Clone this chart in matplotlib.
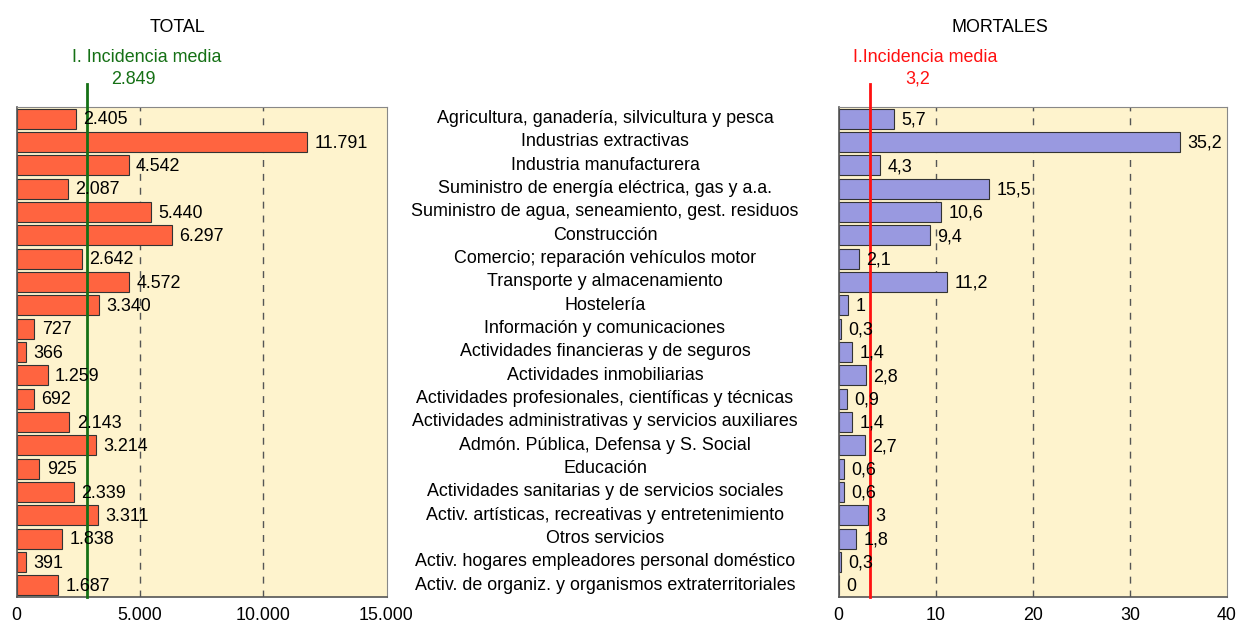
import matplotlib
matplotlib.use("Agg")
import matplotlib.pyplot as plt
import numpy as np

plt.rcParams['font.family'] = ['Liberation Sans', 'DejaVu Sans']

categories = [
    "Agricultura, ganadería, silvicultura y pesca",
    "Industrias extractivas",
    "Industria manufacturera",
    "Suministro de energía eléctrica, gas y a.a.",
    "Suministro de agua, seneamiento, gest. residuos",
    "Construcción",
    "Comercio; reparación vehículos motor",
    "Transporte y almacenamiento",
    "Hostelería",
    "Información y comunicaciones",
    "Actividades financieras y de seguros",
    "Actividades inmobiliarias",
    "Actividades profesionales, científicas y técnicas",
    "Actividades administrativas y servicios auxiliares",
    "Admón. Pública, Defensa y S. Social",
    "Educación",
    "Actividades sanitarias y de servicios sociales",
    "Activ. artísticas, recreativas y entretenimiento",
    "Otros servicios",
    "Activ. hogares empleadores personal doméstico",
    "Activ. de organiz. y organismos extraterritoriales",
]
total = [2405, 11791, 4542, 2087, 5440, 6297, 2642, 4572, 3340, 727, 366, 1259,
         692, 2143, 3214, 925, 2339, 3311, 1838, 391, 1687]
mortales = [5.7, 35.2, 4.3, 15.5, 10.6, 9.4, 2.1, 11.2, 1, 0.3, 1.4, 2.8,
            0.9, 1.4, 2.7, 0.6, 0.6, 3, 1.8, 0.3, 0]
total_mean = 2849
mortales_mean = 3.2
total_ticks = [0, 5000, 10000, 15000]
mortales_ticks = [0, 10, 20, 30, 40]

W, H = 1236, 622
fig = plt.figure(figsize=(W / 100, H / 100), dpi=100)
FS = 12.9

bg = '#FEF3CD'
top_px, bot_px = 107, 597
axL = fig.add_axes([16.5 / W, 1 - bot_px / H, (386.5 - 16.5) / W, (bot_px - top_px) / H])
axR = fig.add_axes([838.5 / W, 1 - bot_px / H, (1227 - 838.5) / W, (bot_px - top_px) / H])

n = len(categories)
y = np.arange(n)

def fmt_total(v):
    return f"{v:,}".replace(",", ".")

def fmt_mort(v):
    s = f"{v:g}"
    return s.replace(".", ",")

def style(ax, xmax, ticks, tickfmt):
    ax.set_facecolor(bg)
    ax.set_xlim(0, xmax)
    ax.set_ylim(n - 0.5, -0.5)
    ax.set_yticks([])
    ax.set_xticks(ticks)
    ax.set_xticklabels([tickfmt(t) for t in ticks], fontsize=FS)
    ax.tick_params(axis='x', length=0, pad=7)
    for t in ticks[1:-1]:
        ax.axvline(t, color='#555555', linestyle=(0, (5, 5)), linewidth=1, zorder=1)
    for s in ['top', 'right']:
        ax.spines[s].set_color('#888888')
    for s in ['left', 'bottom']:
        ax.spines[s].set_color('#555555')
        ax.spines[s].set_linewidth(1.2)

style(axL, 15000, total_ticks, fmt_total)
style(axR, 40, mortales_ticks, fmt_mort)

axL.barh(y, total, height=0.85, color='#FF6440', edgecolor='#333333', linewidth=0.8, zorder=2)
axR.barh(y, mortales, height=0.85, color='#9999E0', edgecolor='#333333', linewidth=0.8, zorder=2)

for yi, v in zip(y, total):
    axL.text(v + 300, yi + 0.05, fmt_total(v), va='center', ha='left', fontsize=FS, zorder=4)
for yi, v in zip(y, mortales):
    axR.text(v + 0.75, yi + 0.05, fmt_mort(v), va='center', ha='left', fontsize=FS, zorder=4)

# mean lines extending above the axes
axL.plot([total_mean, total_mean], [n - 0.5, -1.5], color='#157015', linewidth=2,
         clip_on=False, zorder=3)
axR.plot([mortales_mean, mortales_mean], [n - 0.5, -1.5], color='#FF1010', linewidth=2,
         clip_on=False, zorder=3)

# category labels in the middle
for yi, c in zip(y, categories):
    yp = 1 - (top_px + (yi + 0.5) * (bot_px - top_px) / n) / H
    fig.text(605 / W, yp, c, ha='center', va='center', fontsize=FS)

fig.text(177 / W, 1 - 27 / H, "TOTAL", ha='center', va='center', fontsize=FS)
fig.text(1000 / W, 1 - 27 / H, "MORTALES", ha='center', va='center', fontsize=FS)
fig.text(147 / W, 1 - 57 / H, "I. Incidencia media", ha='center', va='center',
         fontsize=FS, color='#157015')
fig.text(133 / W, 1 - 79 / H, fmt_total(total_mean), ha='center', va='center',
         fontsize=FS, color='#157015')
fig.text(925 / W, 1 - 57 / H, "I.Incidencia media", ha='center', va='center',
         fontsize=FS, color='#FF1010')
fig.text(918 / W, 1 - 79 / H, fmt_mort(mortales_mean), ha='center', va='center',
         fontsize=FS, color='#FF1010')

fig.savefig("out.png", dpi=100)
